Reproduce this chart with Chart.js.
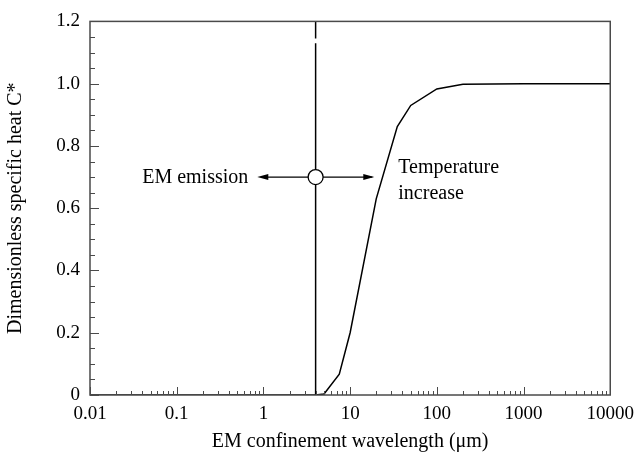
<!DOCTYPE html>
<html>
<head>
<meta charset="utf-8">
<style>
  body { margin: 0; background: #fff; }
  canvas { display: block; }
</style>
<script src="https://cdn.jsdelivr.net/npm/chart.js@4.4.1/dist/chart.umd.min.js"></script>
</head>
<body>
<canvas id="chart" width="642" height="454"></canvas>
<script>
// Data
const wavelength = [0.01, 4, 5, 7.5, 10, 20, 35, 50, 100, 200, 1000, 10000];
const specificHeat = [0, 0, 0.003, 0.067, 0.2, 0.63, 0.862, 0.93, 0.983, 0.998, 1.0, 1.0];

const xTicks = [0.01, 0.1, 1, 10, 100, 1000, 10000];
const yTicks = [0, 0.2, 0.4, 0.6, 0.8, 1.0, 1.2];

// marker line, circle and arrows
const markerX = 4;
const markerY = 0.7;
const arrowLeftEnd = 0.85;
const arrowRightEnd = 19;

const serif = '"Liberation Serif", "DejaVu Serif", serif';
const frameColor = '#4a4a4a';

// Frame, inward ticks, arrow heads and labels
const decorPlugin = {
    id: 'decor',
    afterDatasetsDraw(chart) {
        const { ctx, chartArea: a, scales: { x, y } } = chart;
        ctx.save();
        ctx.strokeStyle = frameColor;
        ctx.lineWidth = 1.5;
        ctx.strokeRect(a.left, a.top, a.right - a.left, a.bottom - a.top);

        ctx.lineWidth = 1;
        ctx.beginPath();
        // x ticks: decades and 2..9
        xTicks.forEach((d, i) => {
            const px = Math.round(x.getPixelForValue(d)) + 0.5;
            ctx.moveTo(px, a.bottom);
            ctx.lineTo(px, a.bottom - 8);
            if (i < xTicks.length - 1) {
                for (let m = 2; m <= 9; m++) {
                    const p = Math.round(x.getPixelForValue(d * m)) + 0.5;
                    ctx.moveTo(p, a.bottom);
                    ctx.lineTo(p, a.bottom - 4);
                }
            }
        });
        // y ticks: major every 0.2, minor every 0.05
        yTicks.forEach((v, i) => {
            const py = Math.round(y.getPixelForValue(v)) + 0.5;
            ctx.moveTo(a.left, py);
            ctx.lineTo(a.left + 9, py);
            if (i < yTicks.length - 1) {
                for (let k = 1; k < 4; k++) {
                    const p = Math.round(y.getPixelForValue(v + k * 0.05)) + 0.5;
                    ctx.moveTo(a.left, p);
                    ctx.lineTo(a.left + 5, p);
                }
            }
        });
        ctx.stroke();

        // arrow heads
        const ay = y.getPixelForValue(markerY);
        const lx = x.getPixelForValue(arrowLeftEnd);
        const rx = x.getPixelForValue(arrowRightEnd);
        ctx.fillStyle = '#000';
        ctx.beginPath();
        ctx.moveTo(lx, ay);
        ctx.lineTo(lx + 11, ay - 3);
        ctx.lineTo(lx + 11, ay + 3);
        ctx.closePath();
        ctx.moveTo(rx, ay);
        ctx.lineTo(rx - 11, ay - 3);
        ctx.lineTo(rx - 11, ay + 3);
        ctx.closePath();
        ctx.fill();

        // labels
        ctx.font = '20px ' + serif;
        ctx.fillStyle = '#000';
        ctx.textBaseline = 'middle';
        ctx.textAlign = 'right';
        ctx.fillText('EM emission', lx - 9, ay + 1);
        ctx.textAlign = 'left';
        ctx.fillText('Temperature', rx + 24, ay - 9);
        ctx.fillText('increase', rx + 24, ay + 17);
        ctx.restore();
    }
};

const ctx = document.getElementById('chart').getContext('2d');

new Chart(ctx, {
    type: 'line',
    data: {
        datasets: [
            {
                // circle marker (drawn on top)
                data: [{ x: markerX, y: markerY }],
                showLine: false,
                pointRadius: 7.5,
                pointBackgroundColor: '#fff',
                pointBorderColor: '#000',
                pointBorderWidth: 1.3
            },
            {
                data: wavelength.map((w, i) => ({ x: w, y: specificHeat[i] })),
                borderColor: '#000',
                borderWidth: 1.5,
                pointRadius: 0,
                tension: 0
            },
            {
                data: [{ x: markerX, y: 0 }, { x: markerX, y: 1.13 }, { x: markerX, y: null }, { x: markerX, y: 1.145 }, { x: markerX, y: 1.2 }],
                borderColor: '#000',
                borderWidth: 1.5,
                pointRadius: 0,
                spanGaps: false
            },
            {
                data: [{ x: arrowLeftEnd + 0.1, y: markerY }, { x: markerX, y: markerY }],
                borderColor: '#000',
                borderWidth: 1.2,
                pointRadius: 0
            },
            {
                data: [{ x: markerX, y: markerY }, { x: arrowRightEnd - 1, y: markerY }],
                borderColor: '#000',
                borderWidth: 1.2,
                pointRadius: 0
            }
        ]
    },
    options: {
        responsive: false,
        animation: false,
        layout: { padding: { left: 0, right: 27, top: 20, bottom: 0 } },
        plugins: { legend: { display: false }, tooltip: { enabled: false } },
        scales: {
            x: {
                type: 'logarithmic',
                min: 0.01,
                max: 10000,
                afterBuildTicks: (scale) => { scale.ticks = xTicks.map(v => ({ value: v })); },
                afterFit: (scale) => { scale.height = 59; },
                grid: { display: false, drawTicks: false },
                border: { display: false },
                ticks: {
                    autoSkip: false,
                    maxRotation: 0,
                    padding: 8,
                    color: '#000',
                    font: { family: serif, size: 19 },
                    callback: (v) => String(v)
                },
                title: {
                    display: true,
                    text: 'EM confinement wavelength (μm)',
                    color: '#000',
                    font: { family: serif, size: 20 },
                    padding: { top: 0, bottom: 0 }
                }
            },
            y: {
                min: 0,
                max: 1.2,
                afterBuildTicks: (scale) => { scale.ticks = yTicks.map(v => ({ value: v })); },
                afterFit: (scale) => { scale.width = 90; },
                grid: { display: false, drawTicks: false },
                border: { display: false },
                ticks: {
                    autoSkip: false,
                    padding: 10,
                    color: '#000',
                    font: { family: serif, size: 19 },
                    callback: (v) => v === 0 ? '0' : v.toFixed(1)
                },
                title: {
                    display: true,
                    text: 'Dimensionless specific heat C*',
                    color: '#000',
                    font: { family: serif, size: 20 },
                    padding: { top: 4, bottom: 0 }
                }
            }
        }
    },
    plugins: [decorPlugin]
});
</script>
</body>
</html>
